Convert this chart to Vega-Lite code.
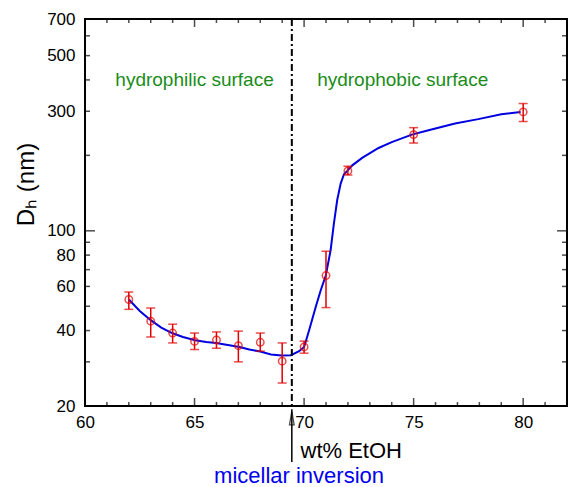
{
  "$schema": "https://vega.github.io/schema/vega-lite/v6.json",
  "width": 482,
  "height": 387,
  "autosize": {"type": "none"},
  "padding": {"left": 85, "top": 19, "right": 2, "bottom": 81},
  "config": {
    "view": {"stroke": "black", "strokeWidth": 2},
    "axis": {
      "labelFont": "Liberation Sans",
      "titleFont": "Liberation Sans",
      "labelColor": "black",
      "titleColor": "black",
      "domain": false,
      "grid": false,
      "ticks": false,
      "labelFontSize": 17,
      "labelFlush": false,
      "labelOverlap": false,
      "labelBound": false
    },
    "text": {"font": "Liberation Sans"}
  },
  "datasets": {
    "curve": [
      {"wt": 62, "dh": 53.2}, {"wt": 62.5, "dh": 47.9}, {"wt": 63, "dh": 44.0},
      {"wt": 63.48, "dh": 41.1}, {"wt": 63.97, "dh": 39.1}, {"wt": 64.47, "dh": 37.7},
      {"wt": 65.03, "dh": 36.6}, {"wt": 65.53, "dh": 36.0}, {"wt": 65.98, "dh": 35.7},
      {"wt": 66.52, "dh": 35.0}, {"wt": 67.05, "dh": 34.4}, {"wt": 67.5, "dh": 33.6},
      {"wt": 68.0, "dh": 33.0}, {"wt": 68.49, "dh": 32.1}, {"wt": 68.97, "dh": 31.8},
      {"wt": 69.4, "dh": 31.9}, {"wt": 69.77, "dh": 33.1}, {"wt": 70.0, "dh": 34.4},
      {"wt": 70.23, "dh": 40.1}, {"wt": 70.53, "dh": 49.7}, {"wt": 70.76, "dh": 57.9},
      {"wt": 70.99, "dh": 66.3}, {"wt": 71.21, "dh": 83.6}, {"wt": 71.36, "dh": 106.9},
      {"wt": 71.51, "dh": 132.4}, {"wt": 71.67, "dh": 154.3}, {"wt": 71.82, "dh": 168.2},
      {"wt": 71.97, "dh": 173.4}, {"wt": 72.2, "dh": 182.5}, {"wt": 72.65, "dh": 195.4},
      {"wt": 73.4, "dh": 214}, {"wt": 74.0, "dh": 226}, {"wt": 74.92, "dh": 242},
      {"wt": 75.68, "dh": 252}, {"wt": 76.89, "dh": 268}, {"wt": 77.95, "dh": 279},
      {"wt": 79.0, "dh": 292}, {"wt": 79.88, "dh": 298}
    ],
    "pts": [
      {"wt": 62, "dh": 53.2, "lo": 48.6, "hi": 57.0},
      {"wt": 63, "dh": 43.6, "lo": 37.7, "hi": 49.2},
      {"wt": 64, "dh": 39.1, "lo": 35.7, "hi": 42.4},
      {"wt": 65, "dh": 36.2, "lo": 33.6, "hi": 39.1},
      {"wt": 66, "dh": 36.7, "lo": 34.0, "hi": 39.5},
      {"wt": 67, "dh": 34.8, "lo": 30.0, "hi": 39.8},
      {"wt": 68, "dh": 35.9, "lo": 33.1, "hi": 39.1},
      {"wt": 69, "dh": 30.2, "lo": 24.7, "hi": 35.7},
      {"wt": 70, "dh": 34.4, "lo": 32.5, "hi": 36.3},
      {"wt": 71, "dh": 66.3, "lo": 49.4, "hi": 82.9},
      {"wt": 72, "dh": 173.4, "lo": 167, "hi": 181},
      {"wt": 75, "dh": 242, "lo": 224, "hi": 258},
      {"wt": 80, "dh": 298, "lo": 273, "hi": 322}
    ],
    "labels": [
      {"label": "hydrophilic surface", "wt": 65, "dh": 377},
      {"label": "hydrophobic surface", "wt": 74.5, "dh": 377}
    ],
    "xt": [
      {"v": 61, "major": false}, {"v": 62, "major": false}, {"v": 63, "major": false}, {"v": 64, "major": false},
      {"v": 65, "major": true}, {"v": 66, "major": false}, {"v": 67, "major": false}, {"v": 68, "major": false},
      {"v": 69, "major": false}, {"v": 70, "major": true}, {"v": 71, "major": false}, {"v": 72, "major": false},
      {"v": 73, "major": false}, {"v": 74, "major": false}, {"v": 75, "major": true}, {"v": 76, "major": false},
      {"v": 77, "major": false}, {"v": 78, "major": false}, {"v": 79, "major": false}, {"v": 80, "major": true},
      {"v": 81, "major": false}
    ],
    "yt": [
      {"v": 30, "major": false}, {"v": 40, "major": false}, {"v": 50, "major": false}, {"v": 60, "major": false},
      {"v": 70, "major": false}, {"v": 80, "major": false}, {"v": 90, "major": false}, {"v": 100, "major": true},
      {"v": 200, "major": false}, {"v": 300, "major": false}, {"v": 400, "major": false}, {"v": 500, "major": false},
      {"v": 600, "major": false}
    ],
    "one": [{}]
  },
  "layer": [
    {
      "data": {"name": "curve"},
      "mark": {"type": "line", "color": "#0000e0", "strokeWidth": 2},
      "encoding": {
        "x": {"field": "wt", "type": "quantitative",
          "scale": {"domain": [60, 82], "nice": false, "zero": false},
          "axis": {"orient": "bottom", "values": [60, 65, 70, 75, 80],
            "labelPadding": 8.5,
            "title": "wt% EtOH", "titleFontSize": 22, "titleFontWeight": "normal",
            "titleAlign": "left", "titleX": 215, "titleY": 51, "titleBaseline": "alphabetic"}},
        "y": {"field": "dh", "type": "quantitative",
          "scale": {"type": "log", "domain": [20, 700], "nice": false},
          "axis": {"orient": "left", "values": [20, 40, 60, 80, 100, 300, 500, 700],
            "labelPadding": 10, "labelExpr": "'' + datum.value",
            "title": "Dₕ (nm)", "titleFontSize": 24, "titleFontWeight": "normal",
            "titleX": -52, "titleY": 165, "titleBaseline": "alphabetic", "titleAlign": "center"}}
      }
    },
    {
      "data": {"name": "xt"},
      "transform": [{"filter": "datum.major"}],
      "mark": {"type": "tick", "orient": "vertical", "color": "black", "size": 8, "thickness": 1.5, "yOffset": -4},
      "encoding": {
        "x": {"field": "v", "type": "quantitative"},
        "y": {"datum": 20, "type": "quantitative"}
      }
    },
    {
      "data": {"name": "xt"},
      "transform": [{"filter": "!datum.major"}],
      "mark": {"type": "tick", "orient": "vertical", "color": "black", "size": 4, "thickness": 1.5, "yOffset": -2},
      "encoding": {
        "x": {"field": "v", "type": "quantitative"},
        "y": {"datum": 20, "type": "quantitative"}
      }
    },
    {
      "data": {"name": "xt"},
      "transform": [{"filter": "datum.major"}],
      "mark": {"type": "tick", "orient": "vertical", "color": "black", "size": 8, "thickness": 1.5, "yOffset": 4},
      "encoding": {
        "x": {"field": "v", "type": "quantitative"},
        "y": {"datum": 700, "type": "quantitative"}
      }
    },
    {
      "data": {"name": "xt"},
      "transform": [{"filter": "!datum.major"}],
      "mark": {"type": "tick", "orient": "vertical", "color": "black", "size": 4, "thickness": 1.5, "yOffset": 2},
      "encoding": {
        "x": {"field": "v", "type": "quantitative"},
        "y": {"datum": 700, "type": "quantitative"}
      }
    },
    {
      "data": {"name": "yt"},
      "transform": [{"filter": "datum.major"}],
      "mark": {"type": "tick", "orient": "horizontal", "color": "black", "size": 10, "thickness": 1.5, "xOffset": 5},
      "encoding": {
        "x": {"datum": 60, "type": "quantitative"},
        "y": {"field": "v", "type": "quantitative"}
      }
    },
    {
      "data": {"name": "yt"},
      "transform": [{"filter": "!datum.major"}],
      "mark": {"type": "tick", "orient": "horizontal", "color": "black", "size": 5, "thickness": 1.5, "xOffset": 2.5},
      "encoding": {
        "x": {"datum": 60, "type": "quantitative"},
        "y": {"field": "v", "type": "quantitative"}
      }
    },
    {
      "data": {"name": "yt"},
      "transform": [{"filter": "datum.major"}],
      "mark": {"type": "tick", "orient": "horizontal", "color": "black", "size": 10, "thickness": 1.5, "xOffset": -5},
      "encoding": {
        "x": {"datum": 82, "type": "quantitative"},
        "y": {"field": "v", "type": "quantitative"}
      }
    },
    {
      "data": {"name": "yt"},
      "transform": [{"filter": "!datum.major"}],
      "mark": {"type": "tick", "orient": "horizontal", "color": "black", "size": 5, "thickness": 1.5, "xOffset": -2.5},
      "encoding": {
        "x": {"datum": 82, "type": "quantitative"},
        "y": {"field": "v", "type": "quantitative"}
      }
    },
    {
      "data": {"name": "pts"},
      "mark": {"type": "rule", "color": "#e00000", "strokeWidth": 1.5},
      "encoding": {
        "x": {"field": "wt", "type": "quantitative"},
        "y": {"field": "lo", "type": "quantitative"},
        "y2": {"field": "hi"}
      }
    },
    {
      "data": {"name": "pts"},
      "mark": {"type": "tick", "orient": "horizontal", "color": "#e00000", "size": 9, "thickness": 1.5},
      "encoding": {
        "x": {"field": "wt", "type": "quantitative"},
        "y": {"field": "lo", "type": "quantitative"}
      }
    },
    {
      "data": {"name": "pts"},
      "mark": {"type": "tick", "orient": "horizontal", "color": "#e00000", "size": 9, "thickness": 1.5},
      "encoding": {
        "x": {"field": "wt", "type": "quantitative"},
        "y": {"field": "hi", "type": "quantitative"}
      }
    },
    {
      "data": {"name": "pts"},
      "mark": {"type": "point", "shape": "circle", "filled": false, "color": "#e00000", "size": 55, "strokeWidth": 1.5},
      "encoding": {
        "x": {"field": "wt", "type": "quantitative"},
        "y": {"field": "dh", "type": "quantitative"}
      }
    },
    {
      "data": {"name": "one"},
      "mark": {"type": "rule", "color": "black", "strokeWidth": 2, "strokeDash": [7, 3, 2, 3]},
      "encoding": {
        "x": {"datum": 69.44, "type": "quantitative"}
      }
    },
    {
      "data": {"name": "labels"},
      "mark": {"type": "text", "color": "#1a8c1a", "fontSize": 19, "align": "center", "baseline": "alphabetic"},
      "encoding": {
        "x": {"field": "wt", "type": "quantitative"},
        "y": {"field": "dh", "type": "quantitative"},
        "text": {"field": "label"}
      }
    },
    {
      "data": {"name": "one"},
      "mark": {"type": "rule", "color": "black", "strokeWidth": 1.5},
      "encoding": {
        "x": {"datum": 69.44, "type": "quantitative"},
        "y": {"datum": 11.96, "type": "quantitative"},
        "y2": {"datum": 19.4}
      }
    },
    {
      "data": {"name": "one"},
      "mark": {"type": "point", "shape": "M0,-1L0.35,1L-0.35,1Z", "filled": false, "color": "black", "strokeWidth": 1.3, "size": 180},
      "encoding": {
        "x": {"datum": 69.44, "type": "quantitative"},
        "y": {"datum": 17.9, "type": "quantitative"}
      }
    },
    {
      "data": {"name": "one"},
      "mark": {"type": "text", "color": "#0000ee", "fontSize": 22, "align": "center", "baseline": "alphabetic", "text": "micellar inversion"},
      "encoding": {
        "x": {"datum": 69.77, "type": "quantitative"},
        "y": {"datum": 9.9, "type": "quantitative"}
      }
    }
  ]
}
